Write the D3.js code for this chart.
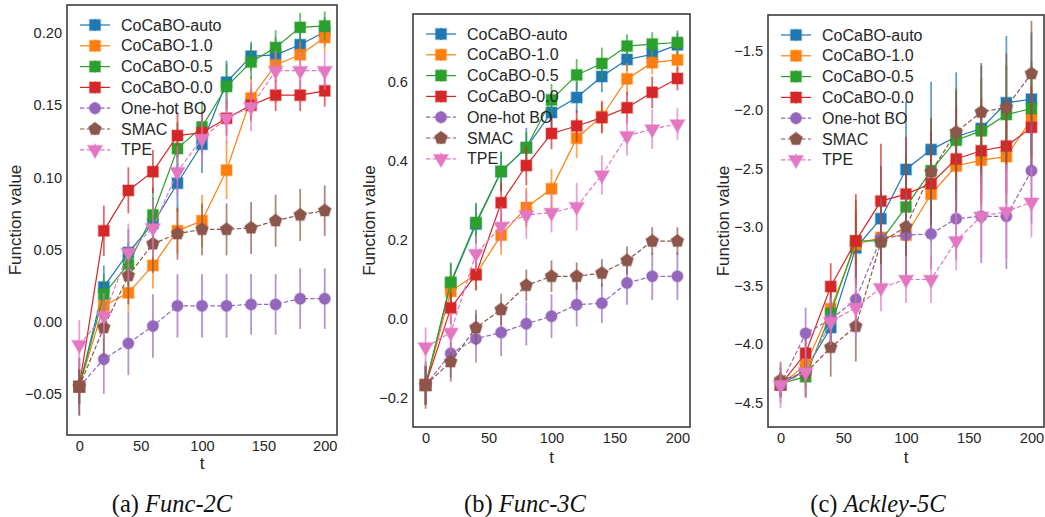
<!DOCTYPE html>
<html>
<head>
<meta charset="utf-8">
<script src="https://cdn.jsdelivr.net/npm/d3@7"></script>
<style>
  body { margin: 0; background: #fff; }
  svg { display: block; }
  .tick text { font-family: "Liberation Sans", Arial, sans-serif; font-size: 14.6px; fill: #262626; }
</style>
</head>
<body>
<div id="viz"></div>
<script>
// iterations
const T = [0, 20, 40, 60, 80, 100, 120, 140, 160, 180, 200];

const SERIES = ["CoCaBO-auto", "CoCaBO-1.0", "CoCaBO-0.5", "CoCaBO-0.0", "One-hot BO", "SMAC", "TPE"];
const COLORS = ["#1f77b4", "#ff7f0e", "#2ca02c", "#d62728", "#9467bd", "#8c564b", "#e377c2"];
const MARKERS = ["square", "square", "square", "square", "circle", "pentagon", "tridown"];
const DASHED = [false, false, false, false, true, true, true];

// (a) Func-2C
const func2c_mean = [
  [-0.045, 0.024, 0.048, 0.068, 0.096, 0.123, 0.166, 0.184, 0.185, 0.192, 0.201],
  [-0.045, 0.011, 0.020, 0.039, 0.063, 0.070, 0.105, 0.155, 0.178, 0.185, 0.197],
  [-0.045, 0.019, 0.040, 0.074, 0.120, 0.135, 0.163, 0.180, 0.190, 0.204, 0.205],
  [-0.045, 0.063, 0.091, 0.104, 0.129, 0.131, 0.141, 0.150, 0.157, 0.157, 0.160],
  [-0.045, -0.026, -0.015, -0.003, 0.011, 0.011, 0.011, 0.012, 0.012, 0.016, 0.016],
  [-0.045, -0.004, 0.032, 0.054, 0.061, 0.064, 0.064, 0.065, 0.070, 0.074, 0.077],
  [-0.016, 0.004, 0.048, 0.065, 0.104, 0.127, 0.141, 0.149, 0.174, 0.174, 0.174]
];
const func2c_err = [
  [0.012, 0.015, 0.016, 0.018, 0.020, 0.020, 0.015, 0.010, 0.012, 0.010, 0.010],
  [0.012, 0.010, 0.013, 0.016, 0.016, 0.018, 0.020, 0.015, 0.012, 0.010, 0.010],
  [0.012, 0.014, 0.015, 0.019, 0.018, 0.018, 0.016, 0.012, 0.012, 0.010, 0.010],
  [0.012, 0.0175, 0.016, 0.015, 0.015, 0.014, 0.012, 0.011, 0.011, 0.011, 0.011],
  [0.020, 0.024, 0.022, 0.022, 0.022, 0.022, 0.022, 0.021, 0.021, 0.021, 0.021],
  [0.020, 0.020, 0.020, 0.020, 0.018, 0.018, 0.018, 0.018, 0.018, 0.018, 0.0175],
  [0.017, 0.016, 0.020, 0.020, 0.018, 0.017, 0.017, 0.017, 0.014, 0.013, 0.013]
];

// (b) Func-3C
const func3c_mean = [
  [-0.167, 0.090, 0.240, 0.373, 0.433, 0.522, 0.560, 0.613, 0.656, 0.669, 0.693],
  [-0.167, 0.070, 0.113, 0.212, 0.282, 0.329, 0.457, 0.512, 0.607, 0.648, 0.655],
  [-0.167, 0.093, 0.244, 0.373, 0.433, 0.554, 0.617, 0.646, 0.690, 0.695, 0.699],
  [-0.167, 0.028, 0.112, 0.294, 0.388, 0.469, 0.488, 0.509, 0.534, 0.573, 0.608],
  [-0.167, -0.087, -0.050, -0.034, -0.012, 0.007, 0.036, 0.040, 0.091, 0.108, 0.108],
  [-0.167, -0.108, -0.022, 0.024, 0.085, 0.108, 0.108, 0.116, 0.148, 0.197, 0.197],
  [-0.071, -0.034, 0.165, 0.234, 0.263, 0.269, 0.284, 0.364, 0.463, 0.480, 0.493]
];
const func3c_err = [
  [0.05, 0.05, 0.05, 0.05, 0.05, 0.04, 0.04, 0.04, 0.03, 0.03, 0.03],
  [0.05, 0.05, 0.04, 0.05, 0.05, 0.05, 0.05, 0.04, 0.04, 0.03, 0.03],
  [0.05, 0.05, 0.05, 0.05, 0.04, 0.04, 0.04, 0.04, 0.03, 0.03, 0.03],
  [0.05, 0.04, 0.04, 0.05, 0.05, 0.04, 0.04, 0.04, 0.04, 0.04, 0.03],
  [0.05, 0.06, 0.06, 0.06, 0.055, 0.055, 0.055, 0.05, 0.055, 0.06, 0.06],
  [0.06, 0.05, 0.045, 0.04, 0.04, 0.04, 0.035, 0.035, 0.035, 0.035, 0.035],
  [0.05, 0.05, 0.045, 0.05, 0.06, 0.05, 0.06, 0.05, 0.05, 0.05, 0.04]
];

// (c) Ackley-5C
const ackley_mean = [
  [-4.35, -4.22, -3.86, -3.18, -2.93, -2.51, -2.34, -2.23, -2.16, -1.94, -1.91],
  [-4.35, -4.18, -3.70, -3.15, -3.09, -3.07, -2.72, -2.48, -2.43, -2.40, -2.08],
  [-4.34, -4.28, -3.74, -3.12, -3.12, -2.83, -2.52, -2.26, -2.18, -2.04, -1.99],
  [-4.35, -4.08, -3.51, -3.12, -2.78, -2.72, -2.63, -2.42, -2.35, -2.31, -2.15],
  [-4.35, -3.91, -3.79, -3.62, -3.10, -3.07, -3.06, -2.93, -2.91, -2.91, -2.52],
  [-4.31, -4.25, -4.03, -3.85, -3.13, -3.00, -2.53, -2.19, -2.02, -1.98, -1.69],
  [-4.35, -4.24, -3.81, -3.69, -3.52, -3.45, -3.45, -3.12, -2.91, -2.87, -2.79]
];
const ackley_err = [
  [0.10, 0.15, 0.20, 0.30, 0.45, 0.58, 0.58, 0.55, 0.56, 0.57, 0.57],
  [0.10, 0.15, 0.20, 0.30, 0.35, 0.40, 0.40, 0.40, 0.40, 0.40, 0.40],
  [0.10, 0.18, 0.25, 0.35, 0.40, 0.45, 0.45, 0.45, 0.45, 0.42, 0.40],
  [0.10, 0.15, 0.20, 0.40, 0.49, 0.49, 0.45, 0.45, 0.45, 0.40, 0.35],
  [0.15, 0.22, 0.20, 0.30, 0.35, 0.35, 0.30, 0.35, 0.40, 0.45, 0.45],
  [0.15, 0.20, 0.25, 0.30, 0.45, 0.50, 0.45, 0.35, 0.40, 0.46, 0.45],
  [0.20, 0.22, 0.20, 0.25, 0.20, 0.20, 0.20, 0.25, 0.35, 0.40, 0.30]
];

const X_TICKS = [0, 50, 100, 150, 200];
const func2c_yticks = [-0.05, 0.00, 0.05, 0.10, 0.15, 0.20];
const func3c_yticks = [-0.2, 0.0, 0.2, 0.4, 0.6];
const ackley_yticks = [-4.5, -4.0, -3.5, -3.0, -2.5, -2.0, -1.5];

const PANELS = [
  { mean: func2c_mean, err: func2c_err, yticks: func2c_yticks, ydomain: [-0.0785, 0.2195], fmt: ".2f",
    box: [67, 5, 337, 435], ylabelX: 15, xlabelY: 469, capX: 172, tag: "(a) ", name: "Func-2C" },
  { mean: func3c_mean, err: func3c_err, yticks: func3c_yticks, ydomain: [-0.273, 0.771], fmt: ".1f",
    box: [413, 14, 690, 427], ylabelX: 369, xlabelY: 463, capX: 525, tag: "(b) ", name: "Func-3C" },
  { mean: ackley_mean, err: ackley_err, yticks: ackley_yticks, ydomain: [-4.71, -1.19], fmt: ".1f",
    box: [768, 15, 1044, 427], ylabelX: 723, xlabelY: 463, capX: 878, tag: "(c) ", name: "Ackley-5C" }
];

const W = 1045, H = 517;
const FONT = "Liberation Sans, Arial, sans-serif";
const svg = d3.select("#viz").append("svg").attr("width", W).attr("height", H);

// custom marker shapes
const pentagon = {
  draw(ctx, size) {
    const r = Math.sqrt(size / 2.378);
    for (let k = 0; k < 5; k++) {
      const a = -Math.PI / 2 + k * 2 * Math.PI / 5;
      k ? ctx.lineTo(r * Math.cos(a), r * Math.sin(a)) : ctx.moveTo(r * Math.cos(a), r * Math.sin(a));
    }
    ctx.closePath();
  }
};
const tridown = {
  draw(ctx, size) {
    const r = Math.sqrt(size / 1.299);
    ctx.moveTo(0, r);
    ctx.lineTo(r * 0.866, -r * 0.5);
    ctx.lineTo(-r * 0.866, -r * 0.5);
    ctx.closePath();
  }
};
function markerPath(kind) {
  if (kind == "square") return d3.symbol(d3.symbolSquare, 118)();
  if (kind == "circle") return d3.symbol(d3.symbolCircle, 100)();
  if (kind == "pentagon") return d3.symbol(pentagon, 105)();
  return d3.symbol(tridown, 95)();
}

const minus = s => s.replace("-", "\u2212");

PANELS.forEach((p, pi) => {
  const [x0, y0, x1, y1] = p.box;
  const x = d3.scaleLinear().domain([-10, 210]).range([x0, x1]);
  const y = d3.scaleLinear().domain(p.ydomain).range([y1, y0]);

  const g = svg.append("g");

  g.append("clipPath").attr("id", "clip" + pi)
    .append("rect").attr("x", x0).attr("y", y0).attr("width", x1 - x0).attr("height", y1 - y0);

  // axes (no tick marks, seaborn-white look)
  const ya = g.append("g").attr("transform", `translate(${x0},0)`)
    .call(d3.axisLeft(y).tickValues(p.yticks).tickSize(0).tickPadding(5)
      .tickFormat(v => minus(d3.format(p.fmt)(v))));
  ya.select(".domain").remove();

  const xa = g.append("g").attr("transform", `translate(0,${y1})`)
    .call(d3.axisBottom(x).tickValues(X_TICKS).tickSize(0).tickPadding(6).tickFormat(d3.format("d")));
  xa.select(".domain").remove();

  g.append("text")
    .attr("transform", `translate(${p.ylabelX},${(y0 + y1) / 2}) rotate(-90)`)
    .attr("text-anchor", "middle").attr("dy", "0.35em")
    .style("font-family", FONT).style("font-size", "17px").style("fill", "#262626")
    .text("Function value");

  g.append("text")
    .attr("x", (x0 + x1) / 2).attr("y", p.xlabelY)
    .attr("text-anchor", "middle")
    .style("font-family", FONT).style("font-size", "17px").style("fill", "#262626")
    .text("t");

  const plot = g.append("g").attr("clip-path", `url(#clip${pi})`);
  const line = d3.line().x((d, i) => x(T[i])).y(d => y(d));

  SERIES.forEach((name, si) => {
    const m = p.mean[si], e = p.err[si];
    const s = plot.append("g");
    s.selectAll("line.err").data(m).enter().append("line")
      .attr("x1", (d, i) => x(T[i])).attr("x2", (d, i) => x(T[i]))
      .attr("y1", (d, i) => y(d - e[i])).attr("y2", (d, i) => y(d + e[i]))
      .attr("stroke", COLORS[si]).attr("stroke-width", 1.8).attr("stroke-opacity", 0.7);
    s.append("path").attr("d", line(m))
      .attr("fill", "none").attr("stroke", COLORS[si]).attr("stroke-width", 1.2)
      .attr("stroke-dasharray", DASHED[si] ? "4.5,2.2" : null);
    s.selectAll("path.mk").data(m).enter().append("path")
      .attr("d", markerPath(MARKERS[si]))
      .attr("transform", (d, i) => `translate(${x(T[i])},${y(d)})`)
      .attr("fill", COLORS[si]).attr("stroke", COLORS[si])
      .attr("stroke-opacity", 0.35).attr("stroke-width", 1.6);
  });

  // legend
  const lg = g.append("g").attr("transform", `translate(${x0 + 13},${y0 + 20})`);
  SERIES.forEach((name, si) => {
    const row = lg.append("g").attr("transform", `translate(0,${si * 20.8})`);
    row.append("line").attr("x1", 0).attr("x2", 30)
      .attr("stroke", COLORS[si]).attr("stroke-width", 1.2)
      .attr("stroke-dasharray", DASHED[si] ? "4.5,2.2" : null);
    row.append("line").attr("x1", 15).attr("x2", 15).attr("y1", -6).attr("y2", 6)
      .attr("stroke", COLORS[si]).attr("stroke-width", 2).attr("stroke-opacity", 0.65);
    row.append("path").attr("d", markerPath(MARKERS[si]))
      .attr("transform", "translate(15,0)")
      .attr("fill", COLORS[si]).attr("stroke", COLORS[si])
      .attr("stroke-opacity", 0.35).attr("stroke-width", 1.6);
    row.append("text").attr("x", 41).attr("y", 0).attr("dy", "0.35em")
      .style("font-family", FONT).style("font-size", "16px").style("fill", "#262626")
      .text(name);
  });

  // frame
  g.append("rect").attr("x", x0).attr("y", y0).attr("width", x1 - x0).attr("height", y1 - y0)
    .attr("fill", "none").attr("stroke", "#3d3d3d").attr("stroke-width", 1.6);

  // caption
  const cap = svg.append("text").attr("x", p.capX).attr("y", 512).attr("text-anchor", "middle")
    .style("font-family", "Liberation Serif, 'Times New Roman', serif").style("font-size", "24.5px").style("fill", "#111");
  cap.append("tspan").text(p.tag);
  cap.append("tspan").style("font-style", "italic").text(p.name);
});
</script>
</body>
</html>
